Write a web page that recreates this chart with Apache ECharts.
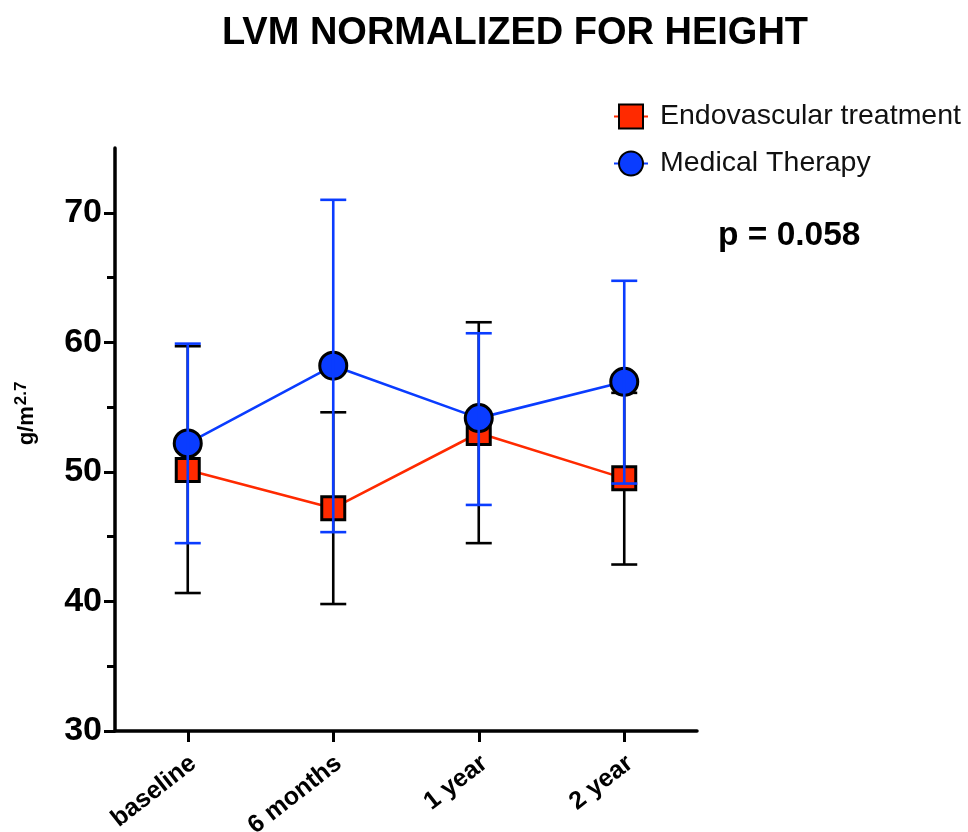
<!DOCTYPE html>
<html>
<head>
<meta charset="utf-8">
<script src="https://cdn.jsdelivr.net/npm/echarts@6/dist/echarts.min.js"></script>
<style>
html,body{margin:0;padding:0;background:#fff;}
#chart{width:968px;height:832px;}
</style>
</head>
<body>
<div id="chart"></div>
<script>
const categories = ['baseline', '6 months', '1 year', '2 year'];
const endoMean = [50.15, 47.2, 53.0, 49.5];
const endoLow  = [40.65, 39.8, 44.5, 42.85];
const endoHigh = [59.7, 54.6, 61.55, 56.1];
const medMean = [52.2, 58.2, 54.15, 56.95];
const medLow  = [44.5, 45.35, 47.45, 49.1];
const medHigh = [59.9, 71.0, 60.7, 64.75];
const yMajorTicks = [30, 40, 50, 60, 70];
const yMinorTicks = [35, 45, 55, 65];

const RED = '#ff2a00';
const BLUE = '#0a3cff';
const FONT = 'Liberation Sans, Arial, Helvetica, sans-serif';

function errData(low, high) {
  return categories.map((c, i) => [i, low[i], high[i]]);
}
function errRender(color) {
  return function (params, api) {
    const i = api.value(0);
    const lo = api.coord([i, api.value(1)]);
    const hi = api.coord([i, api.value(2)]);
    const hw = 13;
    const style = { stroke: color, lineWidth: 2.6 };
    return {
      type: 'group',
      children: [
        { type: 'line', shape: { x1: lo[0], y1: lo[1], x2: hi[0], y2: hi[1] }, style: style },
        { type: 'line', shape: { x1: lo[0] - hw, y1: lo[1], x2: lo[0] + hw, y2: lo[1] }, style: style },
        { type: 'line', shape: { x1: hi[0] - hw, y1: hi[1], x2: hi[0] + hw, y2: hi[1] }, style: style }
      ]
    };
  };
}

const chart = echarts.init(document.getElementById('chart'));
chart.setOption({
  animation: false,
  backgroundColor: '#fff',
  textStyle: { fontFamily: FONT },
  title: {
    text: 'LVM NORMALIZED FOR HEIGHT',
    left: 510,
    textAlign: 'center',
    top: 10,
    textStyle: { fontSize: 38, fontWeight: 'bold', color: '#000', fontFamily: FONT }
  },
  legend: {
    orient: 'vertical',
    left: 608,
    top: 97,
    itemWidth: 34,
    itemHeight: 30,
    itemGap: 18,
    textStyle: { fontSize: 28.5, color: '#111', fontFamily: FONT, padding: [0, 0, 0, 7] },
    data: ['Endovascular treatment', 'Medical Therapy']
  },
  graphic: [{
    type: 'text',
    left: 718,
    top: 219,
    style: { text: 'p = 0.058', font: 'bold 33.5px ' + FONT, fill: '#000' }
  }],
  grid: { left: 115, right: 271, top: 148, bottom: 101, containLabel: false, outerBoundsMode: 'none' },
  xAxis: {
    type: 'category',
    data: categories,
    boundaryGap: true,
    axisLine: { show: true, lineStyle: { color: '#000', width: 3.5 } },
    axisTick: { show: true, alignWithLabel: true, length: 11, lineStyle: { color: '#000', width: 3 } },
    axisLabel: {
      rotate: 38, margin: 11, verticalAlign: 'top', lineHeight: 36,
      fontSize: 25, fontWeight: 'bold', color: '#000', fontFamily: FONT,
      formatter: function (v) { return '{a|' + v + '}'; },
      rich: { a: { fontSize: 25, fontWeight: 'bold', color: '#000', fontFamily: FONT, lineHeight: 36, padding: [0, 7, 0, 0] } }
    },
    splitLine: { show: false }
  },
  yAxis: [{
    type: 'value',
    min: 30,
    max: 75,
    name: 'g/m{sup|2.7}',
    nameLocation: 'middle',
    nameGap: 74,
    nameTextStyle: {
      fontSize: 22, fontWeight: 'bold', color: '#000', fontFamily: FONT, padding: [0, 0, 0, 52],
      rich: { sup: { fontSize: 17, fontWeight: 'bold', color: '#000', fontFamily: FONT, padding: [0, 0, 11, 1] } }
    },
    axisLine: { show: true, lineStyle: { color: '#000', width: 3.5 } },
    axisTick: { show: true, customValues: yMajorTicks, length: 11, lineStyle: { color: '#000', width: 3 } },
    axisLabel: { customValues: yMajorTicks, margin: 13, fontSize: 34, fontWeight: 'bold', color: '#000', fontFamily: FONT },
    splitLine: { show: false }
  }, {
    type: 'value',
    min: 30,
    max: 75,
    position: 'left',
    axisLine: { show: false },
    axisTick: { show: true, customValues: yMinorTicks, length: 8, lineStyle: { color: '#000', width: 3 } },
    axisLabel: { show: false },
    splitLine: { show: false }
  }],
  series: [
    {
      type: 'custom',
      name: 'endoErr',
      z: 1,
      renderItem: errRender('#000'),
      data: errData(endoLow, endoHigh),
      encode: { x: 0, y: [1, 2] },
      silent: true
    },
    {
      type: 'line',
      name: 'Endovascular treatment',
      z: 2,
      data: endoMean,
      symbol: 'rect',
      symbolSize: 23,
      lineStyle: { color: RED, width: 2.6 },
      itemStyle: { color: RED, borderColor: '#000', borderWidth: 3 }
    },
    {
      type: 'line',
      name: 'Medical Therapy',
      z: 3,
      data: medMean,
      symbol: 'circle',
      symbolSize: 27,
      lineStyle: { color: BLUE, width: 2.6 },
      itemStyle: { color: BLUE, borderColor: '#000', borderWidth: 3 }
    },
    {
      type: 'custom',
      name: 'medErr',
      z: 4,
      renderItem: errRender(BLUE),
      data: errData(medLow, medHigh),
      encode: { x: 0, y: [1, 2] },
      silent: true
    }
  ]
});
</script>
</body>
</html>
